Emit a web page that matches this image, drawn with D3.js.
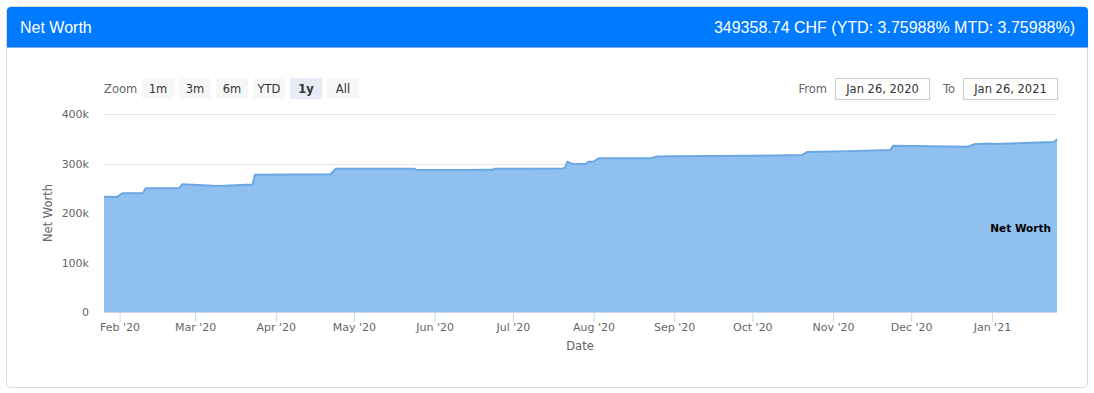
<!DOCTYPE html>
<html>
<head>
<meta charset="utf-8">
<script src="https://cdn.jsdelivr.net/npm/d3@7/dist/d3.min.js"></script>
<style>
  html, body { margin: 0; padding: 0; background: #fff; }
  svg { display: block; }
</style>
</head>
<body>
<svg id="chart" width="1094" height="393"></svg>
<script>
// ---------------- DATA ----------------
const headerTitle = "Net Worth";
const headerSummary = "349358.74 CHF (YTD: 3.75988% MTD: 3.75988%)";
const seriesName = "Net Worth";

const dates = [
  "2020-01-26","2020-01-31","2020-02-02","2020-02-10","2020-02-11","2020-02-24","2020-02-25",
  "2020-03-10","2020-03-23","2020-03-24","2020-04-22","2020-04-24","2020-05-24","2020-05-25",
  "2020-06-11","2020-06-23","2020-06-24","2020-07-20","2020-07-21","2020-07-22","2020-07-24",
  "2020-07-29","2020-07-30","2020-08-01","2020-08-03","2020-08-23","2020-08-25","2020-09-02",
  "2020-09-30","2020-10-20","2020-10-22","2020-11-07","2020-11-23","2020-11-24","2020-12-23",
  "2020-12-25","2020-12-31","2021-01-02","2021-01-25","2021-01-26"
];
const values = [
  232900, 232500, 239800, 240200, 249900, 250600, 258000,
  254500, 257500, 277400, 278300, 289500, 289500, 287600,
  287000, 287200, 289500, 290000, 291000, 303600, 298800,
  299000, 303600, 303800, 310500, 310800, 313900, 314500,
  315500, 317000, 323200, 325000, 327200, 336000, 334000,
  338700, 340300, 339200, 343400, 349359
];

const yTicks = [0, 100000, 200000, 300000, 400000];
const rangeButtons = ["1m", "3m", "6m", "YTD", "1y", "All"];
const selectedRange = "1y";
const fromLabel = "Jan 26, 2020";
const toLabel = "Jan 26, 2021";
const domainStart = "2020-01-26";
const domainEnd = "2021-01-26";

// ---------------- DRAW ----------------
const parse = d3.utcParse("%Y-%m-%d");
const data = dates.map((d, i) => ({ date: parse(d), value: values[i] }));

const svg = d3.select("#chart");
const font = "'DejaVu Sans', Verdana, sans-serif";

// Card
svg.append("rect")
  .attr("x", 6.5).attr("y", 6.5).attr("width", 1081).attr("height", 381)
  .attr("rx", 4).attr("fill", "#fff").attr("stroke", "#dadada");
// Header
svg.append("path")
  .attr("d", "M7,47 L7,11 Q7,7 11,7 L1084,7 Q1088,7 1088,11 L1088,47 Z")
  .attr("fill", "#007bff");
svg.append("line").attr("x1", 7).attr("x2", 1088).attr("y1", 47.5).attr("y2", 47.5)
  .attr("stroke", "#0062cc").attr("stroke-opacity", 0.5);
svg.append("text").attr("x", 20).attr("y", 33)
  .attr("fill", "#fff").attr("font-family", "'Liberation Sans', Arial, sans-serif")
  .attr("font-size", 16).text(headerTitle);
svg.append("text").attr("x", 1075).attr("y", 33).attr("text-anchor", "end")
  .attr("fill", "#fff").attr("font-family", "'Liberation Sans', Arial, sans-serif")
  .attr("font-size", 16).text(headerSummary);

// Scales
const plot = { left: 104, right: 1057, top: 114, bottom: 312 };
const x = d3.scaleUtc().domain([parse(domainStart), parse(domainEnd)]).range([plot.left, plot.right]);
const y = d3.scaleLinear().domain([0, 400000]).range([plot.bottom, plot.top]);

// Gridlines
svg.append("g").selectAll("line").data(yTicks).join("line")
  .attr("x1", plot.left).attr("x2", plot.right)
  .attr("y1", d => Math.round(y(d)) + 0.5).attr("y2", d => Math.round(y(d)) + 0.5)
  .attr("stroke", "#e6e6e6");

// Area + line
const area = d3.area().x(d => x(d.date)).y0(y(0)).y1(d => y(d.value));
const line = d3.line().x(d => x(d.date)).y(d => y(d.value));
svg.append("path").datum(data).attr("d", area)
  .attr("fill", "#7cb5ec").attr("fill-opacity", 0.85);
svg.append("path").datum(data).attr("d", line)
  .attr("fill", "none").attr("stroke", "#6aa7e3").attr("stroke-width", 2)
  .attr("stroke-linejoin", "round");

// Y axis labels
const yAxis = d3.axisLeft(y).tickValues(yTicks).tickSize(0).tickPadding(0)
  .tickFormat(d => d === 0 ? "0" : (d / 1000) + "k");
const gy = svg.append("g").attr("transform", `translate(89,0)`).call(yAxis);
gy.select(".domain").remove();
gy.selectAll("text").attr("font-family", font).attr("font-size", 11).attr("fill", "#666")
  .attr("dy", "0.35em");

// Y axis title
svg.append("text")
  .attr("transform", "translate(52,213) rotate(-90)")
  .attr("text-anchor", "middle").attr("font-family", font).attr("font-size", 11.5)
  .attr("fill", "#666").text(seriesName);

// X axis
const xAxis = d3.axisBottom(x).ticks(d3.utcMonth.every(1)).tickSize(10).tickPadding(1)
  .tickFormat(d3.utcFormat("%b '%y"));
const gx = svg.append("g").attr("transform", `translate(0,${plot.bottom})`).call(xAxis);
gx.select(".domain").attr("stroke", "#ccd6eb").attr("d", `M${plot.left},0.5H${plot.right}`);
gx.selectAll(".tick line").attr("stroke", "#ccd6eb");
gx.selectAll("text").attr("font-family", font).attr("font-size", 11).attr("fill", "#666");

svg.append("text").attr("x", 580).attr("y", 350).attr("text-anchor", "middle")
  .attr("font-family", font).attr("font-size", 11.5).attr("fill", "#666").text("Date");

// Series label
svg.append("text").attr("x", 1051).attr("y", 232).attr("text-anchor", "end")
  .attr("font-family", font).attr("font-weight", "bold").attr("font-size", 10.5)
  .attr("fill", "#000").text(seriesName);

// Range selector
svg.append("text").attr("x", 104).attr("y", 92.5)
  .attr("font-family", font).attr("font-size", 11.5).attr("fill", "#666").text("Zoom");
const btn = svg.append("g").selectAll("g").data(rangeButtons).join("g")
  .attr("transform", (d, i) => `translate(${142 + i * 37},78)`);
btn.append("rect").attr("width", 32).attr("height", 21).attr("rx", 2)
  .attr("fill", d => d === selectedRange ? "#e6ebf5" : "#f7f7f7");
btn.append("text").attr("x", 16).attr("y", 14.5).attr("text-anchor", "middle")
  .attr("font-family", font).attr("font-size", 11.5)
  .attr("font-weight", d => d === selectedRange ? "bold" : "normal")
  .attr("fill", "#333").text(d => d);

// From / To inputs
svg.append("text").attr("x", 827).attr("y", 92.5).attr("text-anchor", "end")
  .attr("font-family", font).attr("font-size", 11.5).attr("fill", "#666").text("From");
svg.append("rect").attr("x", 835.5).attr("y", 78.5).attr("width", 94).attr("height", 21)
  .attr("fill", "#fff").attr("stroke", "#cccccc");
svg.append("text").attr("x", 882.5).attr("y", 93).attr("text-anchor", "middle")
  .attr("font-family", font).attr("font-size", 11.5).attr("fill", "#333").text(fromLabel);
svg.append("text").attr("x", 955).attr("y", 92.5).attr("text-anchor", "end")
  .attr("font-family", font).attr("font-size", 11.5).attr("fill", "#666").text("To");
svg.append("rect").attr("x", 963.5).attr("y", 78.5).attr("width", 94).attr("height", 21)
  .attr("fill", "#fff").attr("stroke", "#cccccc");
svg.append("text").attr("x", 1010.5).attr("y", 93).attr("text-anchor", "middle")
  .attr("font-family", font).attr("font-size", 11.5).attr("fill", "#333").text(toLabel);
</script>
</body>
</html>
